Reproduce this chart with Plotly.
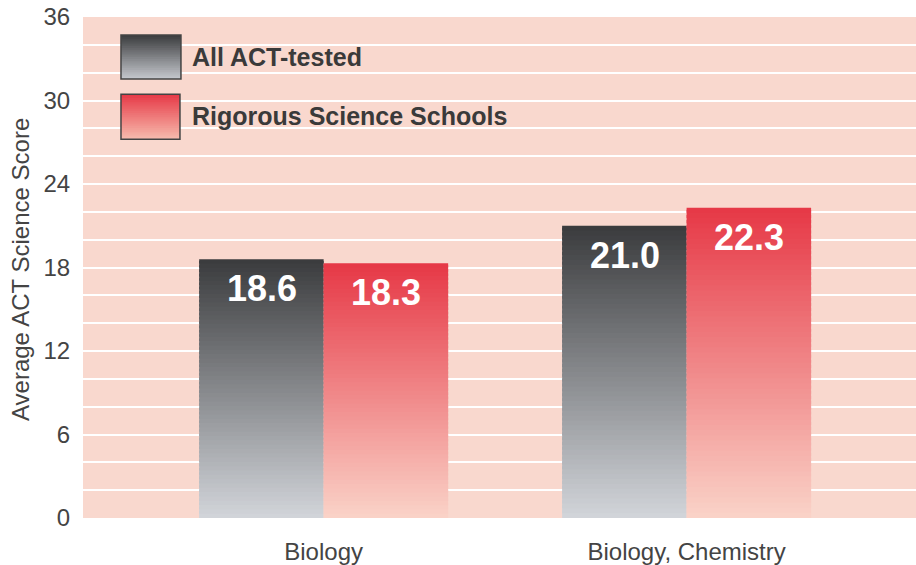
import plotly.graph_objects as go

categories = ["Biology", "Biology, Chemistry"]
series_names = ["All ACT-tested", "Rigorous Science Schools"]
all_act = [18.6, 21.0]
rigorous = [18.3, 22.3]
y_ticks = [0, 6, 12, 18, 24, 30, 36]

# gradient endpoints (top, bottom)
grad = {
    "a": ((0x3a, 0x3b, 0x3d), (0xd2, 0xd5, 0xda)),
    "b": ((0xe6, 0x38, 0x46), (0xfa, 0xd3, 0xc8)),
}
N = 60


def mix(c_top, c_bot, t):
    # t=0 bottom, t=1 top
    return "rgb(%d,%d,%d)" % tuple(round(b + (a - b) * t) for a, b in zip(c_top, c_bot))


fig = go.Figure()
for key, vals in (("a", all_act), ("b", rigorous)):
    top, bot = grad[key]
    for i in range(N):
        t = (i + 0.5) / N
        over = 1.0 if i == N - 1 else 1.6
        fig.add_trace(go.Bar(
            x=categories,
            y=[v / N * over for v in vals],
            base=[v * i / N for v in vals],
            offsetgroup=key,
            marker=dict(color=mix(top, bot, t), line=dict(width=0)),
            showlegend=False,
            hoverinfo="skip",
        ))

# value labels
for vals, shift in ((all_act, -62), (rigorous, 62)):
    for c, v in zip(categories, vals):
        fig.add_annotation(
            x=c, y=v, xref="x", yref="y", text=f"{v:.1f}", showarrow=False,
            xshift=shift, yanchor="top", yshift=-7,
            font=dict(family="Liberation Sans", size=36, color="white", weight="bold"),
        )

# custom legend with gradient boxes
shapes = []
legend_boxes = [("a", 0.0456, 0.1176, 0.876, 0.964, 0.920), ("b", 0.0456, 0.1164, 0.756, 0.846, 0.802)]
M = 24
for (key, x0, x1, y0, y1, ty), name in zip(legend_boxes, series_names):
    top, bot = grad[key]
    if key == "a":
        bot = (0xc6, 0xc9, 0xce)
    else:
        bot = (0xf7, 0xbc, 0xae)
    for j in range(M):
        ya = y0 + (y1 - y0) * j / M
        yb = y0 + (y1 - y0) * (j + 1) / M + 0.002
        shapes.append(dict(type="rect", xref="paper", yref="paper", x0=x0, x1=x1, y0=ya, y1=min(yb, y1),
                           fillcolor=mix(top, bot, (j + 0.5) / M), line=dict(width=0), layer="above"))
    shapes.append(dict(type="rect", xref="paper", yref="paper", x0=x0, x1=x1, y0=y0, y1=y1,
                       fillcolor="rgba(0,0,0,0)", line=dict(color="#444444", width=1.5), layer="above"))
    fig.add_annotation(x=0.1285, y=ty, xref="paper", yref="paper", text=name, showarrow=False,
                       xanchor="left", yanchor="middle",
                       font=dict(family="Liberation Sans", size=25, color="#3a3a3a", weight="bold"))

# y axis title
fig.add_annotation(x=-0.0756, y=0.495, xref="paper", yref="paper", text="Average ACT Science Score",
                   showarrow=False, textangle=-90, xanchor="center", yanchor="middle",
                   font=dict(family="Liberation Sans", size=24, color="#444444"))

fig.update_layout(
    width=916, height=565,
    margin=dict(l=83, r=0, t=17, b=47, autoexpand=False),
    paper_bgcolor="white",
    plot_bgcolor="#f9d8ce",
    barmode="group",
    bargap=0.314,
    bargroupgap=0,
    shapes=shapes,
    showlegend=False,
    font=dict(family="Liberation Sans", color="#444444"),
)
fig.update_xaxes(
    range=[-0.663, 1.632], showgrid=False, zeroline=False, showline=False, automargin=False,
    ticks="outside", ticklen=12, tickcolor="rgba(0,0,0,0)",
    tickfont=dict(family="Liberation Sans", size=24, color="#444444"),
)
fig.update_yaxes(
    range=[0, 36], tickvals=y_ticks, ticktext=[str(t) for t in y_ticks], automargin=False,
    showgrid=True, gridcolor="white", gridwidth=2, zeroline=False, showline=False,
    minor=dict(dtick=2, showgrid=True, gridcolor="white", gridwidth=2),
    ticks="outside", ticklen=7, tickcolor="rgba(0,0,0,0)",
    tickfont=dict(family="Liberation Sans", size=24, color="#444444"),
)

fig.write_html(
    "out.html",
    config={"displayModeBar": False},
    post_script="document.body.style.margin='0';document.body.style.overflow='hidden';",
)
